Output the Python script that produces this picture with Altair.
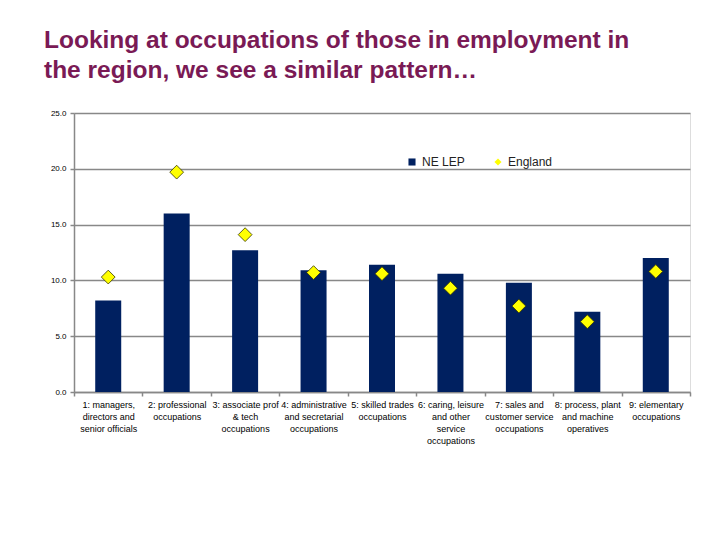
import altair as alt
import pandas as pd

categories = [
    "1: managers,|directors and|senior officials",
    "2: professional|occupations",
    "3: associate prof|& tech|occupations",
    "4: administrative|and secretarial|occupations",
    "5: skilled trades|occupations",
    "6: caring, leisure|and other|service|occupations",
    "7: sales and|customer service|occupations",
    "8: process, plant|and machine|operatives",
    "9: elementary|occupations",
]
ne_lep = [8.2, 16.0, 12.7, 10.9, 11.4, 10.6, 9.8, 7.2, 12.0]
england = [10.3, 19.7, 14.1, 10.7, 10.6, 9.3, 7.7, 6.3, 10.8]

bar_df = pd.DataFrame({"occ": categories, "value": ne_lep, "series": ["NE LEP"] * 9})
pt_df = pd.DataFrame({"occ": categories, "value": england, "series": ["England"] * 9})

x_enc = alt.X(
    "occ:N", sort=categories, title=None,
    scale=alt.Scale(paddingInner=0, paddingOuter=0),
    axis=alt.Axis(
        labelExpr="split(datum.label, '|')",
        labelAngle=0, labelFontSize=9, labelColor="#000000", labelFont="Liberation Sans",
        labelLineHeight=12, labelPadding=4,
        domainColor="#888888", domainWidth=1.5, tickColor="#888888", tickWidth=1.5,
        tickSize=4, tickBand="extent", grid=False,
    ),
)
y_scale = alt.Scale(domain=[0, 25])
y_axis = alt.Axis(
    values=[0, 5, 10, 15, 20, 25], format=".1f", labelFontSize=8, labelColor="#000000",
    labelFont="Liberation Sans", domainColor="#888888", domainWidth=1.5,
    tickColor="#888888", tickWidth=1.5, tickSize=4, gridColor="#888888", gridWidth=1.5,
    labelPadding=4,
)

bars = alt.Chart(bar_df).mark_bar(size=26).encode(
    x=x_enc,
    y=alt.Y("value:Q", scale=y_scale, axis=y_axis, title=None),
    color=alt.Color(
        "series:N",
        scale=alt.Scale(domain=["NE LEP"], range=["#002060"]),
        legend=alt.Legend(
            title=None, orient="none", legendX=332, legendY=43,
            symbolType="square", symbolSize=50, labelFontSize=12,
            labelFont="Liberation Sans", labelColor="#222222",
        ),
    ),
)

points = alt.Chart(pt_df).mark_point(
    shape="diamond", filled=True, size=190, stroke="#333300", strokeWidth=0.8, opacity=1
).encode(
    x=alt.X("occ:N", sort=categories),
    y=alt.Y("value:Q", scale=y_scale),
    fill=alt.Fill(
        "series:N",
        scale=alt.Scale(domain=["England"], range=["#FFFF00"]),
        legend=alt.Legend(
            title=None, orient="none", legendX=418, legendY=43,
            symbolType="diamond", symbolSize=50, symbolStrokeWidth=0, labelFontSize=12,
            labelFont="Liberation Sans", labelColor="#222222",
        ),
    ),
)

chart = alt.layer(bars, points).resolve_scale(color="independent").properties(
    width=616,
    height=279,
    autosize=alt.AutoSizeParams(type="none"),
    padding={"left": 66, "top": 105, "right": 14, "bottom": 140},
    title=alt.TitleParams(
        text=["Looking at occupations of those in employment in",
              "the region, we see a similar pattern\u2026"],
        anchor="start", frame="group", dx=-30, offset=26,
        font="Liberation Sans", fontSize=24.5, fontWeight="bold",
        color="#7A1A55", lineHeight=30,
    ),
).configure_view(stroke=None).configure(background="white")

chart.save("out.html", embed_options={"renderer": "svg", "actions": False})
